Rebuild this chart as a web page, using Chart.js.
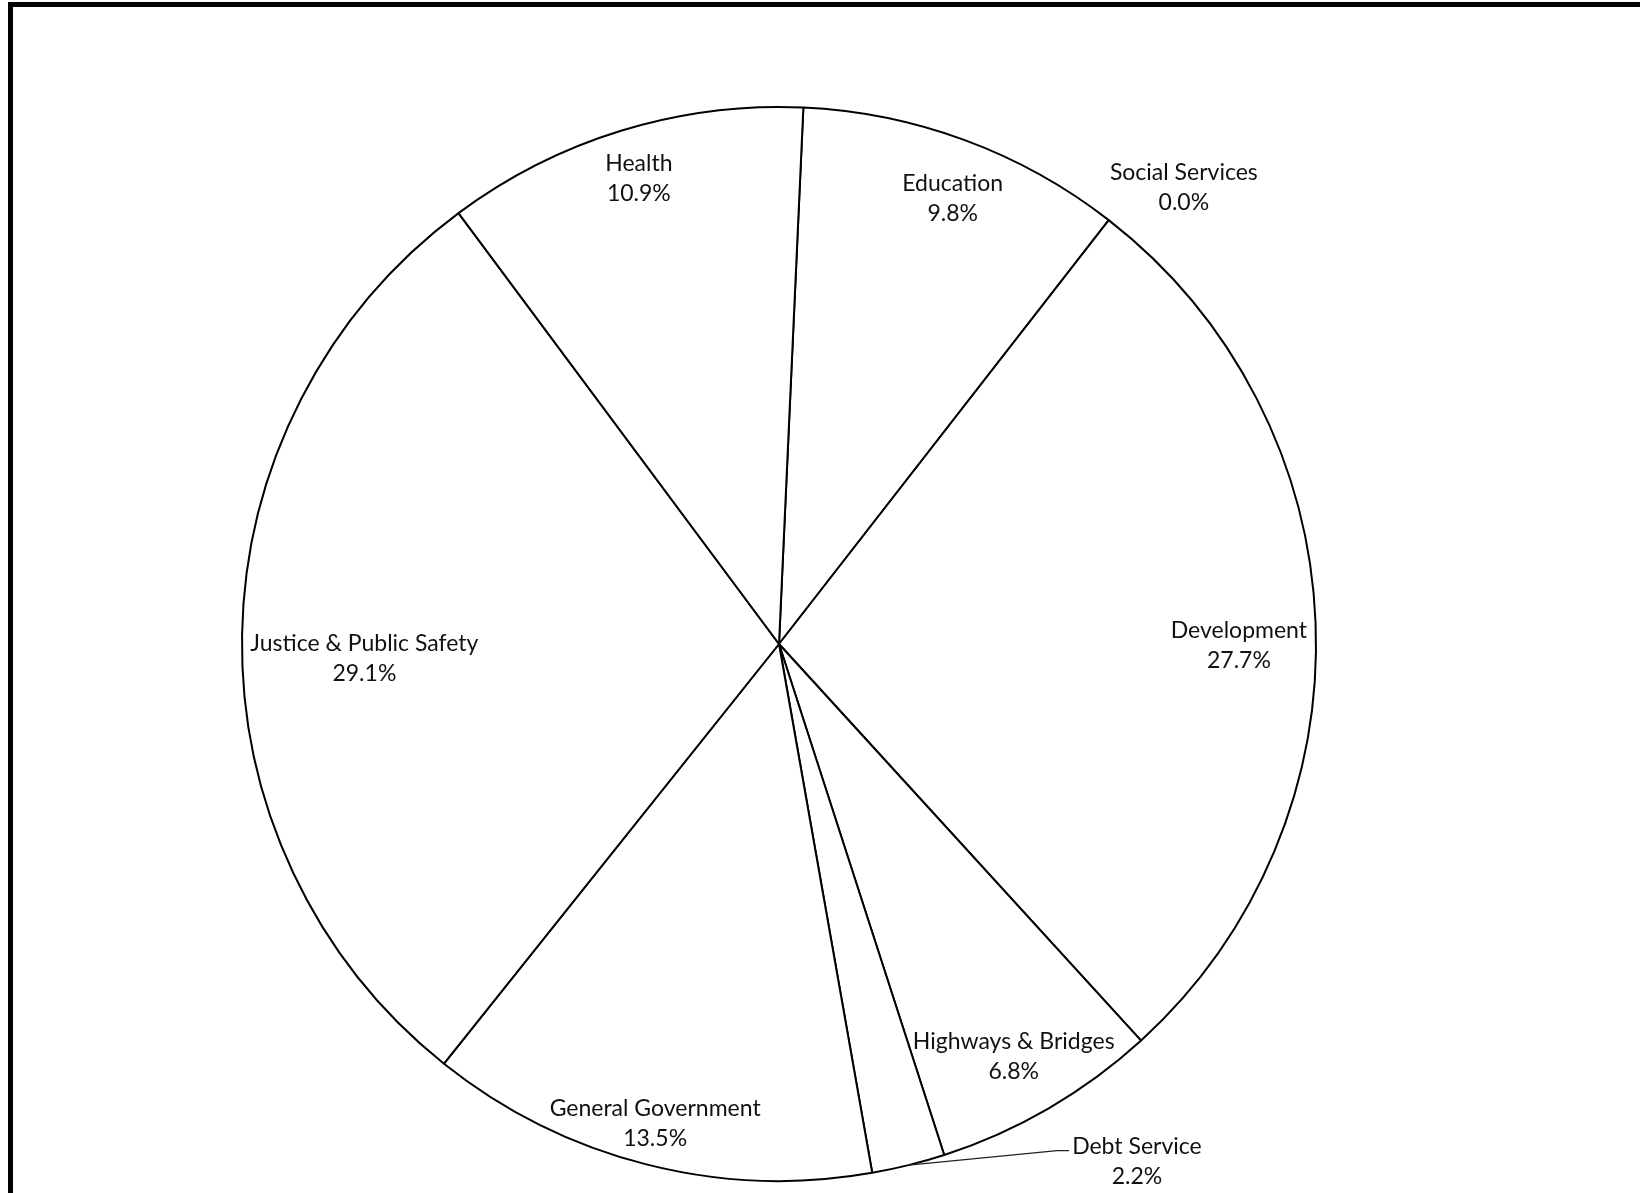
<!DOCTYPE html>
<html>
<head>
<meta charset="utf-8">
<script src="https://cdn.jsdelivr.net/npm/chart.js@4.4.0/dist/chart.umd.min.js"></script>
<style>
html, body { margin:0; padding:0; background:#fff; overflow:hidden; }
#frame { position:absolute; left:8px; top:2px; width:1700px; height:1300px; border:5px solid #000; box-sizing:border-box; }
#pie { position:absolute; left:0; top:0; }
</style>
</head>
<body>
<div id="frame"></div>
<canvas id="pie" width="1640" height="1193"></canvas>
<script>
// spending shares, clockwise from just right of 12 o'clock
const categories = ['Education', 'Social Services', 'Development', 'Highways & Bridges', 'Debt Service', 'General Government', 'Justice & Public Safety', 'Health'];
const shares     = [9.8, 0.0, 27.7, 6.8, 2.2, 13.5, 29.1, 10.9];

const labelFont = '23px Lato';
const lineH = 30;
const textDrop = 4;   // Calibri in Excel sits a little lower than Lato
// small angle nudges (degrees) so labels sit where Excel put them
const labelShift = { 0: 0.9, 2: 2.0, 3: 0.3, 5: 0.3, 6: -2.5, 7: 0.4 };
// labels pushed outside the pie (distance as share of radius)
const outsideLabels = {
  1: { shift: 3.7,   dist: 1.136 },
  4: { shift: -20.7, dist: 1.172, leader: true }
};

const pieLabels = {
  id: 'pieLabels',
  afterDatasetsDraw(chart) {
    const ctx = chart.ctx;
    const meta = chart.getDatasetMeta(0);
    ctx.save();
    ctx.font = labelFont;
    ctx.fillStyle = '#111';
    ctx.textAlign = 'center';
    ctx.textBaseline = 'middle';
    meta.data.forEach((arc, i) => {
      const { x, y, startAngle, endAngle, outerRadius } = arc.getProps(['x', 'y', 'startAngle', 'endAngle', 'outerRadius'], true);
      const mid = (startAngle + endAngle) / 2;
      const lines  = [categories[i], shares[i].toFixed(1) + '%'];
      const widths = lines.map(t => ctx.measureText(t).width);
      let cx, cy;
      const out = outsideLabels[i];
      if (out) {
        const a = mid + out.shift * Math.PI / 180;
        cx = x + Math.cos(a) * outerRadius * out.dist;
        cy = y + Math.sin(a) * outerRadius * out.dist;
        if (out.leader) {
          const left = cx - widths[0] / 2 - 3;
          const ly = cy - lineH / 2 + 4;
          ctx.beginPath();
          ctx.moveTo(left, ly);
          ctx.lineTo(left - 12, ly);
          ctx.lineTo(x + Math.cos(mid) * outerRadius, y + Math.sin(mid) * outerRadius);
          ctx.strokeStyle = '#222';
          ctx.lineWidth = 1.3;
          ctx.stroke();
        }
      } else {
        // best fit: push the two-line block out until it touches the rim
        const a = mid + (labelShift[i] || 0) * Math.PI / 180;
        const limit = outerRadius - 8;
        const fits = d => lines.every((t, k) => {
          const top = (k - 1) * lineH;
          const px = Math.cos(a) * d, py = Math.sin(a) * d;
          return [-1, 1].every(sx => [top, top + lineH].every(yy =>
            Math.hypot(px + sx * widths[k] / 2, py + yy) <= limit));
        });
        let lo = 0, hi = outerRadius;
        for (let n = 0; n < 40; n++) {
          const m = (lo + hi) / 2;
          if (fits(m)) lo = m; else hi = m;
        }
        cx = x + Math.cos(a) * lo;
        cy = y + Math.sin(a) * lo + textDrop;
      }
      lines.forEach((t, k) => ctx.fillText(t, cx, cy + (k - 0.5) * lineH));
    });
    ctx.restore();
  }
};

new Chart(document.getElementById('pie').getContext('2d'), {
  type: 'pie',
  data: {
    labels: categories,
    datasets: [{
      data: shares,
      backgroundColor: '#ffffff',
      borderColor: '#000000',
      borderWidth: 2
    }]
  },
  options: {
    responsive: false,
    animation: false,
    rotation: 2.6,
    layout: { padding: { left: 241, right: 323, top: 106, bottom: 11 } },
    plugins: { legend: { display: false }, tooltip: { enabled: false } }
  },
  plugins: [pieLabels]
});
</script>
</body>
</html>
